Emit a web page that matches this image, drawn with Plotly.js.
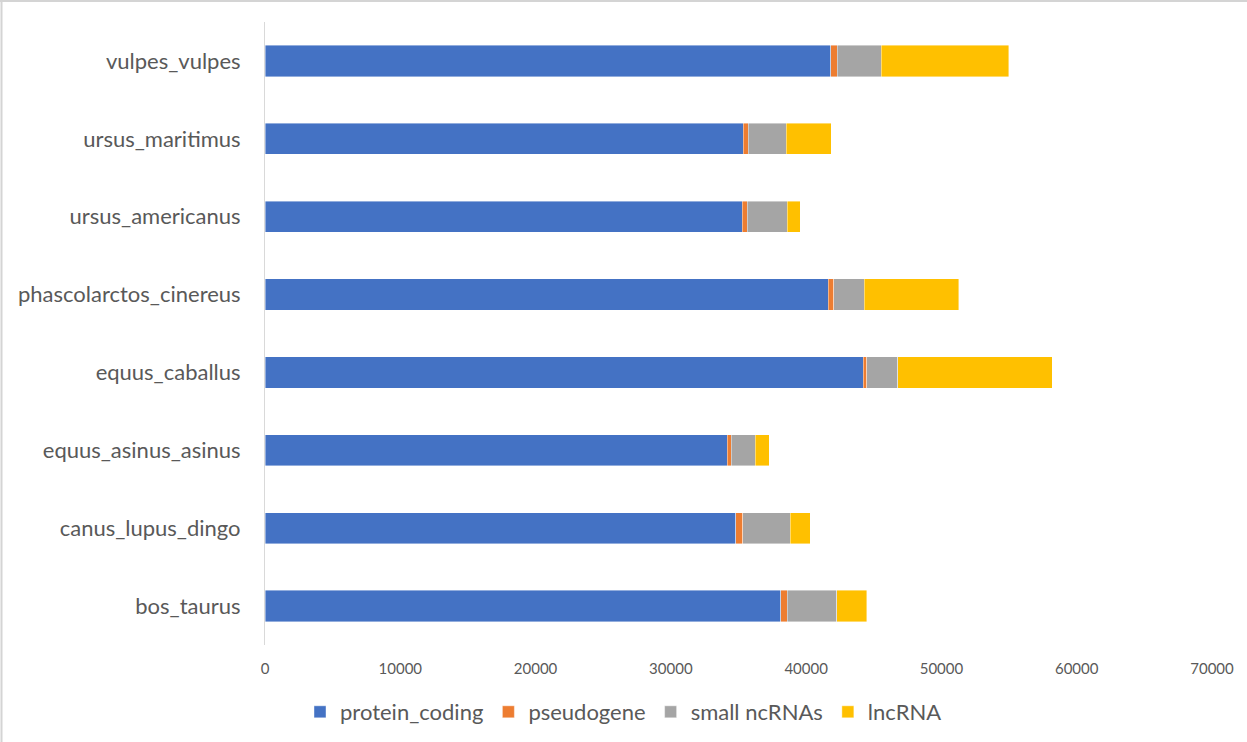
<!DOCTYPE html>
<html>
<head>
<meta charset="utf-8">
<script src="https://cdn.plot.ly/plotly-3.0.1.min.js"></script>
<style>
html,body{margin:0;padding:0;background:#fff;}
#chart{width:1247px;height:742px;}
</style>
</head>
<body>
<div id="chart"></div>
<script>
const species = ["bos_taurus","canus_lupus_dingo","equus_asinus_asinus","equus_caballus","phascolarctos_cinereus","ursus_americanus","ursus_maritimus","vulpes_vulpes"];
const proteinCoding = [38110, 34790, 34150, 44220, 41630, 35280, 35350, 41830];
const pseudogene    = [  490,   520,   300,   270,   400,   370,   370,   470];
const smallNcRNAs   = [ 3650,  3520,  1800,  2270,  2260,  2960,  2810,  3250];
const lncRNA        = [ 2220,  1480,  1040, 11430,  7000,   940,  3330,  9420];
const seriesNames = ["protein_coding","pseudogene","small ncRNAs","lncRNA"];
const seriesColors = ["#4472C4","#ED7D31","#A5A5A5","#FFC000"];
const xTicks = [0,10000,20000,30000,40000,50000,60000,70000];

const allSeries = [proteinCoding, pseudogene, smallNcRNAs, lncRNA];
const traces = allSeries.map((vals, i) => ({
  type: "bar",
  orientation: "h",
  name: seriesNames[i],
  y: species,
  x: vals,
  marker: {color: seriesColors[i], line: {color: "rgba(255,255,255,0.6)", width: 0.7}},
  hoverinfo: "x+y+name"
}));

const FONT = "Lato, 'Open Sans', sans-serif";
const W = 947, H = 623, L = 265, B = 97;
const layout = {
  width: 1247, height: 742,
  barmode: "stack",
  bargap: 0.6,
  paper_bgcolor: "#ffffff",
  plot_bgcolor: "#ffffff",
  margin: {l: L, r: 35, t: 22, b: B, pad: 0},
  font: {family: FONT, color: "#595959"},
  xaxis: {
    range: [0, 70000],
    tickvals: xTicks,
    ticktext: xTicks.map(String),
    showgrid: false,
    zeroline: false,
    showline: false,
    ticks: "",
    tickfont: {size: 15, color: "#595959", family: FONT},
    ticklabelstandoff: 13
  },
  yaxis: {
    type: "category",
    categoryorder: "array",
    categoryarray: species,
    range: [-0.5, 7.5],
    showgrid: false,
    zeroline: false,
    showline: true,
    linecolor: "#d9d9d9",
    linewidth: 1,
    ticks: "",
    tickfont: {size: 22, color: "#595959", family: FONT},
    ticklabelstandoff: 19
  },
  legend: {
    orientation: "h",
    xref: "container", yref: "container",
    x: 0.5, xanchor: "center",
    y: 1 - 712/742, yanchor: "middle",
    font: {size: 22, color: "#595959", family: FONT},
    traceorder: "normal",
    itemwidth: 30
  },
  shapes: [
    {type: "line", xref: "paper", yref: "paper", x0: -(L-1.5)/W, x1: -(L-1.5)/W, y0: (H+22)/H, y1: -B/H, line: {color: "#d4d4d4", width: 2}},
    {type: "line", xref: "paper", yref: "paper", x0: -L/W, x1: (1247-L)/W, y0: (H+21)/H, y1: (H+21)/H, line: {color: "#d4d4d4", width: 2}}
  ],
  showlegend: true
};

Plotly.newPlot("chart", traces, layout, {displayModeBar: false, staticPlot: true});
</script>
</body>
</html>
